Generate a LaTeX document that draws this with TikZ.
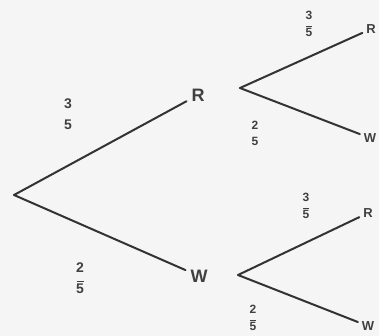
\documentclass[tikz,border=0pt]{standalone}
\usepackage{fontspec}
\setmainfont{Liberation Sans}
\begin{document}
\begin{tikzpicture}[x=1pt,y=-1pt,
  branch/.style={draw=black!80,line width=2pt,line cap=round},
  outcome/.style={font=\bfseries\fontsize{18}{18}\selectfont,text=black!75,inner sep=1pt,outer sep=4pt},
  leaf/.style={font=\bfseries\fontsize{13}{13}\selectfont,text=black!75,inner sep=1pt,outer sep=3pt},
  prob/.style={font=\bfseries\fontsize{12}{12}\selectfont,text=black!75,inner sep=0pt,align=center}]
\fill[black!4] (0,0) rectangle (379,336);
\useasboundingbox (0,0) rectangle (379,336);
% root and first level
\coordinate (root) at (14,195);
\node[outcome] (R1) at (198,95) {R};
\node[outcome] (W1) at (199,276) {W};
\draw[branch] (root) -- (R1);
\draw[branch] (root) -- (W1);
% second level forks
\coordinate (rf) at (240,88);
\coordinate (wf) at (238,275);
\node[leaf] (RR) at (371,29) {R};
\node[leaf] (RW) at (370,138) {W};
\node[leaf] (WR) at (368,213) {R};
\node[leaf] (WW) at (368,326) {W};
\draw[branch] (rf) -- (RR);
\draw[branch] (rf) -- (RW);
\draw[branch] (wf) -- (WR);
\draw[branch] (wf) -- (WW);
% probabilities
\node[prob,font=\bfseries\fontsize{14}{14}\selectfont] (p1) at (68,114) {3\\[7pt]5};
\node[prob,font=\bfseries\fontsize{14}{14}\selectfont] (p2) at (80,278) {2\\[-5pt]\rule{7pt}{0.8pt}\\[-2pt]5};
\node[prob] (p3) at (309,24) {3\\[-5pt]\rule{6pt}{0.7pt}\\[-2pt]5};
\node[prob] (p4) at (255,133) {2\\[4pt]5};
\node[prob] (p5) at (306,206) {3\\[-5pt]\rule{6pt}{0.7pt}\\[-2pt]5};
\node[prob] (p6) at (253,318) {2\\[-5pt]\rule{6pt}{0.7pt}\\[-2pt]5};
\end{tikzpicture}
\end{document}
